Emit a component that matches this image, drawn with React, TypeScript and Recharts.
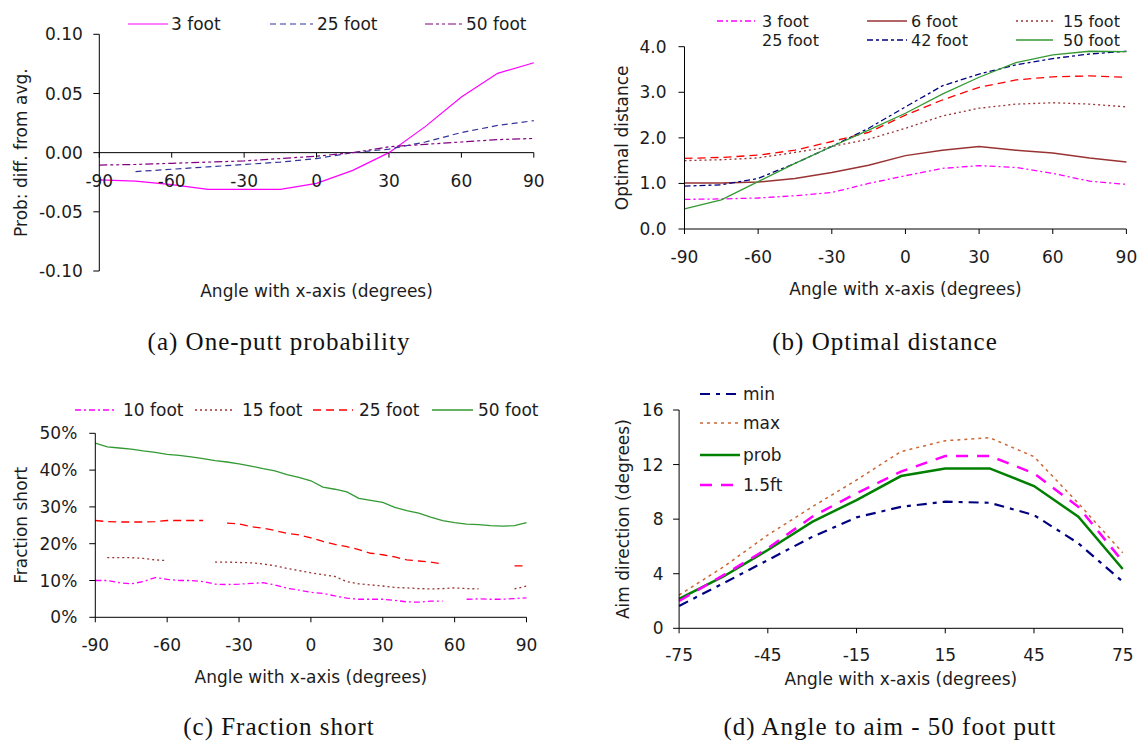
import React from "react"
import { LineChart, Line, XAxis, YAxis, ReferenceLine, Legend } from "recharts"

const FONT = "'DejaVu Sans', Verdana, sans-serif"
const INK = "#1c1c1c"

// (a) one-putt probability, difference from average
const anglesA = [-90, -75, -60, -45, -30, -15, 0, 15, 30, 45, 60, 75, 90]
const probA3 = [-0.023, -0.024, -0.027, -0.031, -0.031, -0.031, -0.026, -0.015, 0.0, 0.022, 0.047, 0.067, 0.076]
const probA25 = [null, -0.016, -0.014, -0.012, -0.01, -0.008, -0.005, 0.0, 0.003, 0.009, 0.017, 0.023, 0.027]
const probA50 = [-0.0105, -0.01, -0.009, -0.008, -0.007, -0.005, -0.003, 0.0, 0.005, 0.007, 0.009, 0.011, 0.012]

// (b) optimal distance
const anglesB = [-90, -75, -60, -45, -30, -15, 0, 15, 30, 45, 60, 75, 90]
const distB3 = [0.65, 0.66, 0.68, 0.73, 0.8, 1.0, 1.17, 1.33, 1.39, 1.35, 1.22, 1.05, 0.98]
const distB6 = [1.01, 1.01, 1.03, 1.11, 1.24, 1.4, 1.61, 1.73, 1.81, 1.73, 1.67, 1.56, 1.47]
const distB15 = [1.5, 1.52, 1.56, 1.68, 1.81, 1.97, 2.21, 2.48, 2.65, 2.74, 2.77, 2.74, 2.68]
const distB25 = [1.55, 1.57, 1.62, 1.73, 1.92, 2.12, 2.5, 2.83, 3.11, 3.27, 3.34, 3.36, 3.33]
const distB42 = [0.94, 0.97, 1.11, 1.44, 1.81, 2.21, 2.68, 3.14, 3.4, 3.6, 3.74, 3.84, 3.9]
const distB50 = [0.44, 0.64, 1.04, 1.44, 1.81, 2.17, 2.54, 2.96, 3.33, 3.65, 3.82, 3.9, 3.89]

// (c) fraction short, percent
const anglesC = [-90, -85, -80, -75, -70, -65, -60, -55, -50, -45, -40, -35, -30, -25, -20, -15, -10, -5, 0, 5, 10, 15, 20, 25, 30, 35, 40, 45, 50, 55, 60, 65, 70, 75, 80, 85, 90]
const shortC10 = [10.0, 10.0, 9.4, 9.1, 9.7, 10.8, 10.3, 10.0, 10.0, 9.7, 9.0, 8.9, 9.0, 9.2, 9.4, 8.8, 7.9, 7.4, 6.8, 6.5, 5.8, 5.2, 4.9, 4.9, 4.9, 4.6, 4.2, 4.1, 4.4, 4.4, null, 4.9, 5.0, 4.9, 4.9, 5.1, 5.3]
const shortC15 = [null, 16.2, 16.2, 16.2, 16.0, 15.6, 15.4, null, null, null, 15.0, 15.0, 14.9, 14.8, 14.5, 14.0, 13.3, 12.7, 12.1, 11.6, 11.1, 9.7, 9.1, 8.8, 8.5, 8.1, 8.0, 7.8, 7.7, 7.8, 8.0, 7.8, 7.7, null, null, 7.7, 8.5]
const shortC25 = [26.3, 26.0, 25.9, 25.9, 25.9, 26.0, 26.3, 26.3, 26.3, 26.3, null, 25.6, 25.4, 24.6, 24.2, 23.6, 22.8, 22.4, 21.6, 20.6, 19.8, 19.2, 18.4, 17.4, 17.0, 16.4, 15.6, 15.3, 15.0, 14.5, null, null, null, null, null, 14.0, 14.0]
const shortC50 = [47.3, 46.3, 46.0, 45.7, 45.2, 44.8, 44.3, 44.0, 43.6, 43.1, 42.6, 42.2, 41.7, 41.1, 40.4, 39.8, 38.8, 38.0, 37.1, 35.4, 34.8, 34.1, 32.3, 31.8, 31.2, 29.9, 29.0, 28.3, 27.2, 26.3, 25.7, 25.3, 25.2, 24.9, 24.8, 24.9, 25.7]

// (d) angle to aim, 50 foot putt
const anglesD = [-75, -60, -45, -30, -15, 0, 15, 30, 45, 60, 75]
const aimMin = [1.64, 3.3, 5.0, 6.7, 8.13, 8.9, 9.28, 9.2, 8.3, 6.23, 3.42]
const aimMax = [2.44, 4.5, 6.84, 8.9, 10.87, 12.95, 13.75, 13.97, 12.58, 9.16, 5.54]
const aimProb = [2.15, 3.8, 5.74, 7.8, 9.4, 11.16, 11.72, 11.72, 10.43, 8.18, 4.35]
const aim15ft = [2.0, 3.9, 5.86, 8.18, 9.9, 11.48, 12.63, 12.63, 11.36, 8.9, 4.9]

const ticks90 = [-90, -60, -30, 0, 30, 60, 90]
const ticks75 = [-75, -45, -15, 15, 45, 75]

const rowsA = anglesA.map((angle, i) => ({ angle, s3: probA3[i], s25: probA25[i], s50: probA50[i] }))
const rowsB = anglesB.map((angle, i) => ({
  angle, s3: distB3[i], s6: distB6[i], s15: distB15[i], s25: distB25[i], s42: distB42[i], s50: distB50[i],
}))
const rowsC = anglesC.map((angle, i) => ({ angle, s10: shortC10[i], s15: shortC15[i], s25: shortC25[i], s50: shortC50[i] }))
const rowsD = anglesD.map((angle, i) => ({ angle, min: aimMin[i], max: aimMax[i], prob: aimProb[i], ft: aim15ft[i] }))

type Series = { key: string; name: string; color: string; dash?: string; width: number; noSymbol?: boolean }
type Item = { x1: number; x2: number; tx: number; y: number }
type Box = { l: number; r: number; t: number; b: number }

const seriesA: Series[] = [
  { key: "s3", name: "3 foot", color: "#ff00ff", width: 1.2 },
  { key: "s25", name: "25 foot", color: "#333399", dash: "6 4", width: 1.2 },
  { key: "s50", name: "50 foot", color: "#800080", dash: "8 3 3 3 3 3", width: 1.2 },
]
const seriesB: Series[] = [
  { key: "s3", name: "3 foot", color: "#ff00ff", dash: "6 3 2 3", width: 1.3 },
  { key: "s6", name: "6 foot", color: "#993333", width: 1.5 },
  { key: "s15", name: "15 foot", color: "#993333", dash: "2 3", width: 1.3 },
  { key: "s25", name: "25 foot", color: "#ff0000", dash: "8 5", width: 1.3, noSymbol: true },
  { key: "s42", name: "42 foot", color: "#000080", dash: "6 3 3 3", width: 1.3 },
  { key: "s50", name: "50 foot", color: "#339933", width: 1.3 },
]
const seriesC: Series[] = [
  { key: "s10", name: "10 foot", color: "#ff00ff", dash: "6 3 2 3", width: 1.3 },
  { key: "s15", name: "15 foot", color: "#993333", dash: "2 3", width: 1.3 },
  { key: "s25", name: "25 foot", color: "#ff0000", dash: "8 5", width: 1.3 },
  { key: "s50", name: "50 foot", color: "#339933", width: 1.3 },
]
const seriesD: Series[] = [
  { key: "min", name: "min", color: "#000080", dash: "10 6 4 6", width: 2.2 },
  { key: "max", name: "max", color: "#cc6633", dash: "3 4", width: 1.5 },
  { key: "prob", name: "prob", color: "#008000", width: 2.5 },
  { key: "ft", name: "1.5ft", color: "#ff00ff", dash: "12 9", width: 2.5 },
]

const legendA: Item[] = [
  { x1: 128, x2: 168, tx: 171, y: 24 },
  { x1: 270, x2: 313, tx: 317, y: 24 },
  { x1: 425, x2: 465, tx: 466, y: 24 },
]
const legendB: Item[] = [
  { x1: 147, x2: 185, tx: 192, y: 21 },
  { x1: 297, x2: 337, tx: 341, y: 21 },
  { x1: 446, x2: 483, tx: 493, y: 21 },
  { x1: 147, x2: 185, tx: 192, y: 40 },
  { x1: 297, x2: 337, tx: 341, y: 40 },
  { x1: 446, x2: 483, tx: 493, y: 40 },
]
const legendC: Item[] = [
  { x1: 75, x2: 117, tx: 123, y: 20 },
  { x1: 195, x2: 233, tx: 242, y: 20 },
  { x1: 313, x2: 353, tx: 359, y: 20 },
  { x1: 432, x2: 473, tx: 478, y: 20 },
]
const legendD: Item[] = [
  { x1: 130, x2: 170, tx: 173, y: 14 },
  { x1: 130, x2: 170, tx: 173, y: 43 },
  { x1: 130, x2: 170, tx: 173, y: 75 },
  { x1: 130, x2: 170, tx: 173, y: 105 },
]

function LegendBox({ series, items, w, h, size }: { series: Series[]; items: Item[]; w: number; h: number; size: number }) {
  return (
    <svg width={w} height={h} style={{ display: "block", overflow: "visible" }}>
      {series.map((s, i) => {
        const it = items[i]
        return (
          <g key={s.key}>
            {!s.noSymbol && (
              <line x1={it.x1} x2={it.x2} y1={it.y} y2={it.y} stroke={s.color} strokeWidth={s.width} strokeDasharray={s.dash} />
            )}
            <text x={it.tx} y={it.y} dominantBaseline="central" fontFamily={FONT} fontSize={size} fill={INK}>
              {s.name}
            </text>
          </g>
        )
      })}
    </svg>
  )
}

type PanelProps = {
  left: number
  top: number
  plot: Box
  rows: any[]
  series: Series[]
  legend: Item[]
  legendH: number
  legendSize?: number
  xDomain: [number, number]
  xTicks: number[]
  yDomain: [number, number]
  yTicks: number[]
  yFmt: (v: number) => string
  yTitle: string
  yTitleX: number
  yGap: number
  xTickDy: number
  xTitleDy: number
  midAxis?: boolean
}

const W = 570
const H = 310

function Panel(p: PanelProps) {
  const { plot } = p
  const zeroY = plot.t + ((plot.b - plot.t) * p.yDomain[1]) / (p.yDomain[1] - p.yDomain[0])
  const cx = (plot.l + plot.r) / 2
  const cy = (plot.t + plot.b) / 2
  const txt = { fontFamily: FONT, fontSize: 17, fill: INK }

  // panel (a) crosses the x axis at zero, so its ticks sit on that line
  const midTick = (tp: any) => (
    <g>
      <line x1={tp.x} x2={tp.x} y1={zeroY} y2={zeroY + 5} stroke="#000" />
      <text x={tp.x} y={zeroY + p.xTickDy} textAnchor="middle" dominantBaseline="central" {...txt}>
        {tp.payload.value}
      </text>
    </g>
  )

  return (
    <div style={{ position: "absolute", left: p.left, top: p.top }}>
      <LineChart width={W} height={H} data={p.rows} margin={{ top: plot.t, right: W - plot.r, bottom: 0, left: 0 }}>
        <XAxis
          type="number"
          dataKey="angle"
          domain={p.xDomain}
          ticks={p.xTicks}
          interval={0}
          height={H - plot.b}
          axisLine={p.midAxis ? false : { stroke: "#000" }}
          tickLine={p.midAxis ? false : { stroke: "#000" }}
          tickSize={5}
          tickMargin={p.xTickDy - 11}
          tick={p.midAxis ? midTick : txt}
          label={() => (
            <text x={cx} y={plot.b + p.xTitleDy} textAnchor="middle" dominantBaseline="central" {...txt}>
              Angle with x-axis (degrees)
            </text>
          )}
        />
        <YAxis
          type="number"
          domain={p.yDomain}
          ticks={p.yTicks}
          interval={0}
          width={plot.l}
          axisLine={{ stroke: "#000" }}
          tickLine={{ stroke: "#000" }}
          tickSize={6}
          tickMargin={p.yGap - 6}
          tickFormatter={p.yFmt}
          tick={txt}
          label={() => (
            <text
              x={p.yTitleX}
              y={cy}
              transform={`rotate(-90 ${p.yTitleX} ${cy})`}
              textAnchor="middle"
              dominantBaseline="central"
              {...txt}
            >
              {p.yTitle}
            </text>
          )}
        />
        {p.midAxis && <ReferenceLine y={0} stroke="#000" strokeWidth={1} />}
        {p.series.map((s) => (
          <Line
            key={s.key}
            type="linear"
            dataKey={s.key}
            name={s.name}
            stroke={s.color}
            strokeWidth={s.width}
            strokeDasharray={s.dash}
            dot={false}
            activeDot={false}
            isAnimationActive={false}
          />
        ))}
        <Legend
          layout="horizontal"
          verticalAlign="middle"
          align="center"
          wrapperStyle={{ left: 0, top: 0, width: W, height: p.legendH }}
          content={() => <LegendBox series={p.series} items={p.legend} w={W} h={p.legendH} size={p.legendSize ?? 17} />}
        />
      </LineChart>
    </div>
  )
}

const captionStyle = (cx: number, cy: number): React.CSSProperties => ({
  position: "absolute",
  left: cx - 300,
  top: cy - 16,
  width: 600,
  height: 32,
  lineHeight: "32px",
  textAlign: "center",
  fontFamily: "'Liberation Serif', 'DejaVu Serif', serif",
  fontSize: 25,
  letterSpacing: 1,
  color: "#111",
})

export default function App() {
  return (
    <div style={{ position: "absolute", left: 0, top: 0, width: 1140, height: 741, background: "#fff", overflow: "hidden" }}>
      <Panel
        left={0}
        top={0}
        plot={{ l: 99.3, r: 533.8, t: 34.3, b: 271 }}
        rows={rowsA}
        series={seriesA}
        legend={legendA}
        legendH={45}
        xDomain={[-90, 90]}
        xTicks={ticks90}
        yDomain={[-0.1, 0.1]}
        yTicks={[-0.1, -0.05, 0, 0.05, 0.1]}
        yFmt={(v) => v.toFixed(2)}
        yTitle="Prob: diff. from avg."
        yTitleX={20.7}
        yGap={16.4}
        xTickDy={28.7}
        xTitleDy={20}
        midAxis
      />
      <Panel
        left={570}
        top={0}
        plot={{ l: 114.5, r: 556.4, t: 46.7, b: 229 }}
        rows={rowsB}
        series={seriesB}
        legend={legendB}
        legendH={50}
        legendSize={16}
        xDomain={[-90, 90]}
        xTicks={ticks90}
        yDomain={[0, 4]}
        yTicks={[0, 1, 2, 3, 4]}
        yFmt={(v) => v.toFixed(1)}
        yTitle="Optimal distance"
        yTitleX={51.6}
        yGap={18}
        xTickDy={27.7}
        xTitleDy={60.3}
      />
      <Panel
        left={0}
        top={390}
        plot={{ l: 95.3, r: 526.5, t: 43.3, b: 227.3 }}
        rows={rowsC}
        series={seriesC}
        legend={legendC}
        legendH={40}
        xDomain={[-90, 90]}
        xTicks={ticks90}
        yDomain={[0, 50]}
        yTicks={[0, 10, 20, 30, 40, 50]}
        yFmt={(v) => `${v}%`}
        yTitle="Fraction short"
        yTitleX={20.7}
        yGap={18}
        xTickDy={27.7}
        xTitleDy={59.4}
      />
      <Panel
        left={570}
        top={380}
        plot={{ l: 109.1, r: 552.7, t: 30, b: 248.3 }}
        rows={rowsD}
        series={seriesD}
        legend={legendD}
        legendH={120}
        xDomain={[-75, 75]}
        xTicks={ticks75}
        yDomain={[0, 16]}
        yTicks={[0, 4, 8, 12, 16]}
        yFmt={(v) => `${v}`}
        yTitle="Aim direction (degrees)"
        yTitleX={52.7}
        yGap={15.6}
        xTickDy={26.7}
        xTitleDy={50.7}
      />
      <div style={captionStyle(279, 342)}>(a) One-putt probability</div>
      <div style={captionStyle(885, 342)}>(b) Optimal distance</div>
      <div style={captionStyle(279, 727)}>(c) Fraction short</div>
      <div style={captionStyle(890, 727)}>(d) Angle to aim - 50 foot putt</div>
    </div>
  )
}
